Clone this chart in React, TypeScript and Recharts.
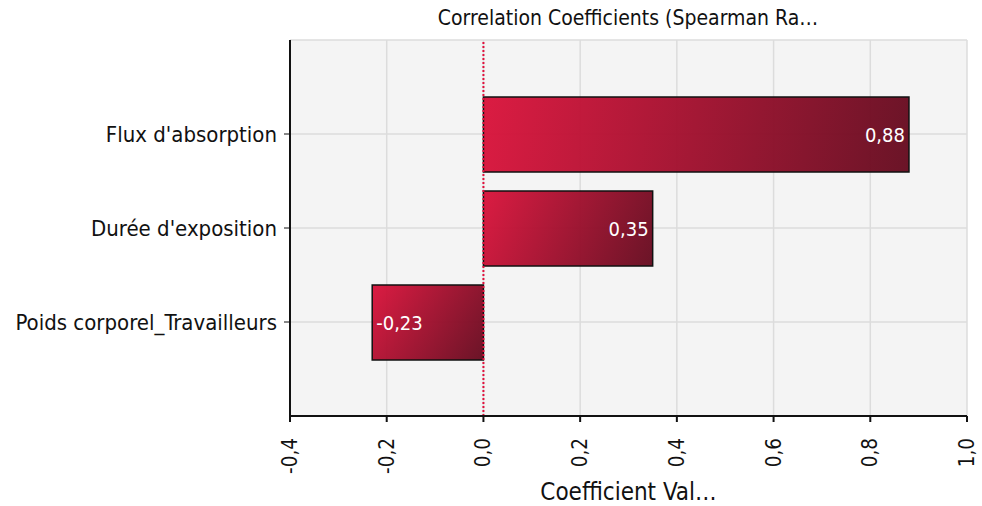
import { BarChart, Bar, XAxis, YAxis, CartesianGrid, ReferenceLine, LabelList } from "recharts";

const categories = ["Flux d'absorption", "Durée d'exposition", "Poids corporel_Travailleurs"];
const coefficients = [0.88, 0.35, -0.23];
const xTicks = [-0.4, -0.2, 0, 0.2, 0.4, 0.6, 0.8, 1.0];

const data = categories.map((name, i) => ({ name, value: coefficients[i] }));

const FONT = "'DejaVu Sans Condensed', 'DejaVu Sans', sans-serif";
const Y_PAD = 47;
const fmt = (v: number) => v.toFixed(2).replace(".", ",");

function XTick(props: any) {
  const { x, y, payload } = props;
  const label = Number(payload.value).toFixed(1).replace(".", ",");
  return (
    <text
      x={x + 7}
      y={y + 14}
      transform={`rotate(-90, ${x + 7}, ${y + 14})`}
      textAnchor="end"
      fontSize={20.5}
      fontFamily={FONT}
      fill="#111"
    >
      {label}
    </text>
  );
}

function ValueLabel(props: any) {
  const { x, y, width, height, value } = props;
  const left = Math.min(x, x + width);
  const right = Math.max(x, x + width);
  const pos = value >= 0;
  return (
    <text
      x={pos ? right - 4 : left + 4}
      y={y + height / 2 + 7}
      textAnchor={pos ? "end" : "start"}
      fontSize={20}
      fontFamily={FONT}
      fill="#fff"
    >
      {fmt(value)}
    </text>
  );
}

// each bar gets its own corner-to-corner gradient
function GradBar(props: any) {
  const { x, y, width, height, index } = props;
  const l = Math.min(x, x + width);
  const w = Math.abs(width);
  const id = `barGrad${index}`;
  return (
    <g>
      <defs>
        <linearGradient id={id} gradientUnits="userSpaceOnUse" x1={l} y1={y} x2={l + w} y2={y + height}>
          <stop offset="0%" stopColor="#da133b" />
          <stop offset="100%" stopColor="#650b1f" />
        </linearGradient>
      </defs>
      <rect x={l} y={y} width={w} height={height} fill={`url(#${id})`} fillOpacity={0.96} stroke="#111" strokeWidth={1.5} />
    </g>
  );
}

// top border + one line per category centre
function gridRows({ offset }: any) {
  const band = (offset.height - 2 * Y_PAD) / categories.length;
  return [offset.top, ...categories.map((_, i) => offset.top + Y_PAD + band * (i + 0.5))];
}

export default function App() {
  return (
    <div style={{ position: "absolute", left: 0, top: 0, width: 982, height: 506, background: "#fff" }}>
      <BarChart
        width={982}
        height={506}
        data={data}
        layout="vertical"
        margin={{ top: 40, right: 15, bottom: 0, left: 0 }}
      >
        <text x={628} y={25} textAnchor="middle" fontSize={21} fontFamily={FONT} fill="#111">
          Correlation Coefficients (Spearman Ra…
        </text>
        <CartesianGrid fill="#f4f4f4" stroke="#dcdcdc" strokeWidth={1.5} horizontalCoordinatesGenerator={gridRows} />
        <XAxis
          type="number"
          domain={[-0.4, 1.0]}
          ticks={xTicks}
          interval={0}
          height={90}
          tick={<XTick />}
          tickSize={6}
          axisLine={{ stroke: "#111", strokeWidth: 2 }}
          tickLine={{ stroke: "#111", strokeWidth: 2 }}
          label={{
            value: "Coefficient Val…",
            position: "insideBottom",
            offset: 6,
            fontSize: 24,
            fontFamily: FONT,
            fill: "#111",
          }}
        />
        <YAxis
          type="category"
          dataKey="name"
          width={290}
          padding={{ top: Y_PAD, bottom: Y_PAD }}
          tickSize={6}
          tick={{ fontSize: 22, fontFamily: FONT, fill: "#111", dx: -5 }}
          axisLine={{ stroke: "#111", strokeWidth: 2 }}
          tickLine={{ stroke: "#111", strokeWidth: 1 }}
        />
        <ReferenceLine x={0} stroke="#e0103c" strokeWidth={2} strokeDasharray="2 2" />
        <Bar dataKey="value" barSize={75} shape={<GradBar />} isAnimationActive={false}>
          <LabelList dataKey="value" content={<ValueLabel />} />
        </Bar>
      </BarChart>
    </div>
  );
}
